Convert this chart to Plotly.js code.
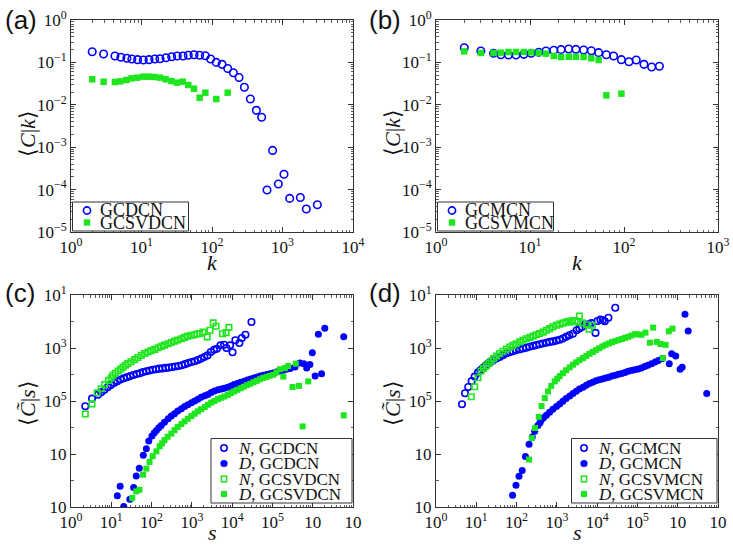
<!DOCTYPE html>
<html>
<head>
<meta charset="utf-8">
<script src="https://cdn.plot.ly/plotly-3.0.1.min.js"></script>
<style>html,body{margin:0;padding:0;background:#fff;}#chart{width:733px;height:546px;}</style>
</head>
<body>
<div id="chart"></div>
<script>
// ---------------- DATA ----------------
// Panel (a): <C|k> versus k
const a_k_GCDCN = [2, 2.9, 4.2, 5.1, 6.2, 7.3, 8.8, 10.6, 12.8, 15.4, 18.3, 22.3, 26.8, 32.2, 38.8, 46.1, 55.6, 66.8, 80.4, 95.7, 115, 139, 167, 201, 242, 288, 350, 426, 506, 603, 724, 873, 1050, 1265, 1791, 2178, 3119];
const a_C_GCDCN = [0.179, 0.158, 0.142, 0.132, 0.125, 0.120, 0.116, 0.114, 0.116, 0.120, 0.122, 0.129, 0.136, 0.142, 0.142, 0.147, 0.152, 0.147, 0.144, 0.120, 0.100, 0.090, 0.072, 0.057, 0.044, 0.026, 0.0137, 0.0074, 0.0051, 9.8e-5, 8.4e-4, 1.36e-4, 2.3e-4, 6.2e-5, 6.5e-5, 3.5e-5, 4.4e-5];
const a_k_GCSVDCN = [2, 2.9, 4.2, 5.0, 6.1, 7.2, 8.7, 10.6, 12.6, 15.1, 18.3, 22.0, 26.5, 31.8, 38.4, 46.1, 55.6, 66.8, 80.4, 115, 167];
const a_C_GCSVDCN = [0.040, 0.035, 0.0345, 0.0358, 0.0385, 0.042, 0.0437, 0.0461, 0.0461, 0.0453, 0.0437, 0.040, 0.0364, 0.0333, 0.0352, 0.0293, 0.0240, 0.0147, 0.0193, 0.0137, 0.0193];

// Panel (b): <C|k> versus k
const b_k_GCMCN = [2, 3, 4.1, 4.9, 5.9, 7.1, 8.6, 10.3, 12.4, 14.8, 17.9, 21.4, 25.8, 30.8, 37.2, 44.9, 53.7, 64.9, 77.6, 93.8, 113, 135, 163, 197, 238];
const b_C_GCMCN = [0.222, 0.186, 0.164, 0.152, 0.150, 0.150, 0.155, 0.164, 0.173, 0.186, 0.193, 0.200, 0.207, 0.203, 0.196, 0.189, 0.170, 0.152, 0.142, 0.116, 0.104, 0.114, 0.090, 0.078, 0.081];
const b_k_GCSVMCN = [2, 3, 4.1, 4.9, 5.9, 7.1, 8.6, 10.3, 12.4, 14.8, 17.9, 21.4, 25.8, 30.8, 37.2, 44.9, 53.7, 64.9, 93.8];
const b_C_GCSVMCN = [0.182, 0.167, 0.167, 0.170, 0.176, 0.176, 0.176, 0.173, 0.167, 0.161, 0.142, 0.134, 0.136, 0.136, 0.134, 0.125, 0.114, 0.0167, 0.0183];

// Panels (c) and (d): pairs read on the log axes, [log10 s, log10 <C~|s>]
const c_N_GCDCN = [[0.355,-3.20],[0.521,-2.91],[0.67,-2.76],[0.75,-2.67],[0.83,-2.58],[0.91,-2.48],[0.99,-2.40],[1.07,-2.32],[1.15,-2.25],[1.23,-2.19],[1.31,-2.14],[1.39,-2.10],[1.47,-2.06],[1.55,-2.02],[1.63,-1.98],[1.71,-1.95],[1.79,-1.91],[1.87,-1.88],[1.95,-1.85],[2.03,-1.82],[2.11,-1.80],[2.19,-1.78],[2.27,-1.77],[2.35,-1.75],[2.43,-1.74],[2.51,-1.72],[2.59,-1.70],[2.67,-1.68],[2.75,-1.65],[2.83,-1.61],[2.91,-1.57],[2.99,-1.53],[3.07,-1.50],[3.15,-1.45],[3.23,-1.40],[3.31,-1.34],[3.39,-1.28],[3.47,-1.15],[3.55,-1.07],[3.62,-1.03],[3.71,-0.90],[3.80,-0.88],[3.86,-1.00],[3.95,-0.90],[4.01,-1.16],[4.08,-0.71],[4.18,-0.81],[4.24,-0.62],[4.33,-0.50],[4.48,-0.02]];
const c_D_GCDCN = [[1.15,-6.58],[1.22,-6.22],[1.31,-6.98],[1.46,-6.71],[1.555,-6.26],[1.62,-5.83],[1.695,-5.54],[1.795,-5.05],[1.87,-4.80],[1.93,-4.51],[2.01,-4.32],[2.07,-4.20],[2.12,-4.11],[2.18,-4.01],[2.24,-3.92],[2.32,-3.80],[2.41,-3.67],[2.49,-3.57],[2.57,-3.48],[2.65,-3.38],[2.74,-3.29],[2.82,-3.21],[2.90,-3.14],[2.99,-3.07],[3.07,-3.00],[3.15,-2.93],[3.23,-2.86],[3.32,-2.80],[3.40,-2.75],[3.48,-2.68],[3.56,-2.62],[3.65,-2.58],[3.73,-2.55],[3.81,-2.52],[3.89,-2.48],[3.97,-2.43],[4.05,-2.38],[4.13,-2.34],[4.21,-2.29],[4.30,-2.25],[4.38,-2.21],[4.46,-2.17],[4.54,-2.13],[4.62,-2.09],[4.70,-2.06],[4.78,-2.03],[4.86,-2.00],[4.94,-1.97],[5.02,-1.94],[5.10,-1.91],[5.18,-1.87],[5.26,-1.84],[5.35,-1.80],[5.44,-1.77],[5.56,-1.72],[5.68,-1.57],[5.78,-1.59],[5.85,-1.75],[5.93,-1.62],[5.99,-1.18],[6.06,-2.06],[6.14,-0.48],[6.22,-1.97],[6.30,-0.25],[6.77,-0.58]];
const c_N_GCSVDCN = [[0.355,-3.49],[0.52,-3.11],[0.65,-2.69],[0.75,-2.54],[0.835,-2.38],[0.935,-2.22],[1.00,-2.12],[1.04,-2.03],[1.10,-1.95],[1.17,-1.87],[1.23,-1.80],[1.29,-1.72],[1.35,-1.65],[1.41,-1.59],[1.49,-1.52],[1.58,-1.44],[1.66,-1.36],[1.745,-1.28],[1.83,-1.21],[1.91,-1.15],[1.99,-1.10],[2.08,-1.05],[2.16,-0.99],[2.24,-0.94],[2.32,-0.89],[2.41,-0.84],[2.49,-0.79],[2.57,-0.74],[2.65,-0.70],[2.74,-0.65],[2.82,-0.60],[2.90,-0.55],[2.99,-0.52],[3.07,-0.50],[3.13,-0.47],[3.19,-0.45],[3.28,-0.40],[3.38,-0.58],[3.45,-0.33],[3.53,-0.05],[3.60,-0.18],[3.76,-0.46],[3.85,-0.42],[3.92,-0.22]];
const c_D_GCSVDCN = [[1.52,-6.66],[1.62,-6.41],[1.70,-6.35],[1.79,-5.78],[1.87,-5.55],[1.95,-5.30],[2.03,-5.08],[2.12,-4.90],[2.20,-4.71],[2.26,-4.60],[2.32,-4.48],[2.40,-4.35],[2.49,-4.23],[2.57,-4.10],[2.65,-3.98],[2.74,-3.87],[2.82,-3.77],[2.90,-3.67],[2.99,-3.57],[3.07,-3.48],[3.15,-3.39],[3.23,-3.31],[3.32,-3.23],[3.40,-3.14],[3.48,-3.06],[3.56,-3.00],[3.65,-2.93],[3.73,-2.88],[3.81,-2.83],[3.89,-2.77],[3.97,-2.70],[4.05,-2.64],[4.13,-2.58],[4.21,-2.52],[4.29,-2.46],[4.37,-2.40],[4.45,-2.35],[4.53,-2.29],[4.61,-2.24],[4.69,-2.18],[4.77,-2.13],[4.85,-2.09],[4.93,-2.05],[5.02,-2.01],[5.10,-1.92],[5.19,-1.80],[5.27,-2.08],[5.31,-1.76],[5.39,-1.68],[5.50,-2.47],[5.58,-1.59],[5.66,-2.43],[5.75,-3.96],[5.89,-2.26],[6.77,-3.54]];

const d_N_GCMCN = [[0.645,-3.12],[0.72,-2.71],[0.80,-2.47],[0.885,-2.25],[0.96,-2.08],[1.04,-1.93],[1.10,-1.84],[1.17,-1.75],[1.23,-1.67],[1.29,-1.59],[1.35,-1.53],[1.41,-1.47],[1.50,-1.40],[1.58,-1.34],[1.66,-1.27],[1.745,-1.21],[1.83,-1.16],[1.91,-1.12],[1.99,-1.08],[2.08,-1.05],[2.16,-1.02],[2.24,-0.99],[2.32,-0.95],[2.41,-0.92],[2.49,-0.89],[2.57,-0.86],[2.65,-0.83],[2.74,-0.80],[2.82,-0.77],[2.90,-0.75],[2.99,-0.72],[3.07,-0.69],[3.15,-0.64],[3.23,-0.58],[3.31,-0.52],[3.40,-0.46],[3.49,-0.33],[3.56,-0.26],[3.62,-0.21],[3.70,-0.11],[3.80,-0.11],[3.86,-0.06],[3.96,-0.43],[4.01,0.02],[4.08,0.07],[4.14,0.05],[4.19,0.01],[4.28,0.14],[4.45,0.52]];
const d_D_GCMCN = [[1.90,-6.56],[1.985,-6.18],[2.06,-5.84],[2.14,-5.62],[2.22,-5.09],[2.31,-4.63],[2.39,-4.36],[2.45,-4.14],[2.53,-3.92],[2.58,-3.82],[2.61,-3.73],[2.67,-3.63],[2.74,-3.54],[2.82,-3.42],[2.90,-3.31],[2.99,-3.21],[3.07,-3.11],[3.15,-3.01],[3.23,-2.91],[3.32,-2.81],[3.40,-2.72],[3.48,-2.63],[3.56,-2.55],[3.65,-2.48],[3.73,-2.41],[3.81,-2.34],[3.89,-2.29],[3.97,-2.24],[4.05,-2.20],[4.13,-2.17],[4.21,-2.13],[4.29,-2.10],[4.37,-2.06],[4.45,-2.03],[4.53,-1.99],[4.61,-1.96],[4.69,-1.92],[4.77,-1.88],[4.85,-1.85],[4.93,-1.82],[5.02,-1.79],[5.10,-1.75],[5.18,-1.70],[5.26,-1.65],[5.35,-1.59],[5.44,-1.53],[5.52,-1.47],[5.62,-1.40],[5.79,-1.59],[5.85,-1.22],[5.95,-1.30],[6.06,-1.80],[6.11,-1.73],[6.18,0.27],[6.26,-0.36],[6.72,-2.72]];
const d_N_GCSVMCN = [[0.875,-2.84],[0.96,-2.46],[1.04,-2.12],[1.12,-1.87],[1.18,-1.77],[1.25,-1.68],[1.31,-1.58],[1.37,-1.49],[1.43,-1.40],[1.50,-1.30],[1.58,-1.21],[1.66,-1.12],[1.745,-1.04],[1.83,-0.96],[1.91,-0.90],[1.99,-0.84],[2.08,-0.77],[2.16,-0.71],[2.24,-0.65],[2.33,-0.60],[2.41,-0.55],[2.49,-0.50],[2.57,-0.45],[2.66,-0.40],[2.74,-0.33],[2.82,-0.27],[2.90,-0.20],[2.99,-0.14],[3.07,-0.10],[3.15,-0.06],[3.22,-0.03],[3.28,0.01],[3.33,-0.03],[3.38,0.03],[3.45,0.04],[3.52,-0.02],[3.56,0.21],[3.63,-0.05],[3.74,-0.12],[3.80,-0.29],[3.88,-0.14]];
const d_D_GCSVMCN = [[2.31,-5.21],[2.38,-4.40],[2.46,-4.02],[2.55,-3.60],[2.62,-3.19],[2.70,-2.89],[2.78,-2.64],[2.86,-2.43],[2.95,-2.26],[3.01,-2.16],[3.07,-2.06],[3.15,-1.95],[3.23,-1.84],[3.32,-1.73],[3.40,-1.63],[3.48,-1.54],[3.56,-1.46],[3.65,-1.38],[3.73,-1.30],[3.81,-1.22],[3.89,-1.15],[3.97,-1.08],[4.05,-1.01],[4.13,-0.94],[4.21,-0.88],[4.29,-0.83],[4.37,-0.78],[4.45,-0.74],[4.53,-0.70],[4.61,-0.66],[4.69,-0.62],[4.77,-0.58],[4.85,-0.53],[4.94,-0.48],[5.02,-0.49],[5.10,-0.50],[5.20,-0.42],[5.31,-0.80],[5.39,-0.23],[5.48,-0.77],[5.57,-0.85],[5.63,-1.38],[5.70,-0.88],[5.78,-0.37],[5.87,-0.27]];

// Tick labels
const ab_yTickVals = [1e-5, 1e-4, 1e-3, 1e-2, 1e-1, 1];
const ab_yTickText = ['10<sup>\u22125</sup>','10<sup>\u22124</sup>','10<sup>\u22123</sup>','10<sup>\u22122</sup>','10<sup>\u22121</sup>','10<sup>0</sup>'];
const a_xTickVals = [1, 10, 100, 1000, 10000];
const a_xTickText = ['10<sup>0</sup>','10<sup>1</sup>','10<sup>2</sup>','10<sup>3</sup>','10<sup>4</sup>'];
const b_xTickVals = [1, 10, 100, 1000];
const b_xTickText = ['10<sup>0</sup>','10<sup>1</sup>','10<sup>2</sup>','10<sup>3</sup>'];
const cd_xTickVals = [1, 10, 100, 1e3, 1e4, 1e5, 1e6, 1e7];
const cd_xTickText = ['10<sup>0</sup>','10<sup>1</sup>','10<sup>2</sup>','10<sup>3</sup>','10<sup>4</sup>','10<sup>5</sup>','10','10'];
const cd_yTickVals = [1e-7, 1e-5, 1e-3, 1e-1, 10];
const cd_yTickText = ['10','10','10<sup>5</sup>','10<sup>3</sup>','10<sup>1</sup>'];

// ---------------- STYLE / LAYOUT ----------------
const W = 733, H = 546;
const BLUE = '#0000ff', GREEN = '#1ee61e';
const SERIF = 'Liberation Serif, Times New Roman, serif';
const SANS = 'Liberation Sans, Arial, sans-serif';
const boxes = {
  a: {l:71, r:353, t:20, b:232},
  b: {l:436, r:718, t:20, b:232},
  c: {l:71, r:353, t:295, b:507},
  d: {l:436, r:718, t:295, b:507}
};
function dom(p){ return {x:[p.l/W, p.r/W], y:[1-p.b/H, 1-p.t/H]}; }
function minorVals(lo, hi){ const v=[]; for(let e=lo;e<hi;e++){ for(let m=2;m<=9;m++) v.push(m*Math.pow(10,e)); } return v; }
const cd_yMinor = [1e-6, 1e-4, 1e-2, 1];

function axis(domain, anchor, range, tickvals, ticktext, minor){
  return {
    type:'log', domain:domain, anchor:anchor, range:range,
    tickmode:'array', tickvals:tickvals, ticktext:ticktext,
    ticks:'inside', ticklen:5, tickwidth:1, tickcolor:'#333',
    showline:true, linecolor:'#333', linewidth:1, mirror:'allticks',
    showgrid:false, zeroline:false,
    tickfont:{family:SERIF, size:17, color:'#111'},
    minor:{ticks:'inside', ticklen:2.5, tickwidth:0.8, tickcolor:'#333', tickmode:'array', tickvals:minor, showgrid:false}
  };
}

const pw = v => Math.pow(10, v);
function tr(name, xs, ys, xa, ya, symbol, color, size, open){
  return {name:name, x:xs, y:ys, xaxis:xa, yaxis:ya, type:'scatter', mode:'markers', showlegend:false,
    marker:{symbol:symbol, size:size, color:color, line:{color:color, width: open ? 1.6 : 0}}};
}
function trPairs(name, pairs, xa, ya, symbol, color, size, open){
  return tr(name, pairs.map(p=>pw(p[0])), pairs.map(p=>pw(p[1])), xa, ya, symbol, color, size, open);
}

const data = [
  tr('GCDCN', a_k_GCDCN, a_C_GCDCN, 'x', 'y', 'circle-open', BLUE, 7.5, true),
  tr('GCSVDCN', a_k_GCSVDCN, a_C_GCSVDCN, 'x', 'y', 'square', GREEN, 6.5, false),
  tr('GCMCN', b_k_GCMCN, b_C_GCMCN, 'x2', 'y2', 'circle-open', BLUE, 7.5, true),
  tr('GCSVMCN', b_k_GCSVMCN, b_C_GCSVMCN, 'x2', 'y2', 'square', GREEN, 6.5, false),
  trPairs('N, GCDCN', c_N_GCDCN, 'x3', 'y3', 'circle-open', BLUE, 6.5, true),
  trPairs('D, GCDCN', c_D_GCDCN, 'x3', 'y3', 'circle', BLUE, 7, false),
  trPairs('N, GCSVDCN', c_N_GCSVDCN, 'x3', 'y3', 'square-open', GREEN, 5.5, true),
  trPairs('D, GCSVDCN', c_D_GCSVDCN, 'x3', 'y3', 'square', GREEN, 6, false),
  trPairs('N, GCMCN', d_N_GCMCN, 'x4', 'y4', 'circle-open', BLUE, 6.5, true),
  trPairs('D, GCMCN', d_D_GCMCN, 'x4', 'y4', 'circle', BLUE, 7, false),
  trPairs('N, GCSVMCN', d_N_GCSVMCN, 'x4', 'y4', 'square-open', GREEN, 5.5, true),
  trPairs('D, GCSVMCN', d_D_GCSVMCN, 'x4', 'y4', 'square', GREEN, 6, false)
];

const layout = {
  width:W, height:H, autosize:false,
  margin:{l:0, r:0, t:0, b:0},
  paper_bgcolor:'#fff', plot_bgcolor:'#fff',
  font:{family:SERIF, color:'#111'},
  xaxis: axis(dom(boxes.a).x, 'y', [0,4], a_xTickVals, a_xTickText, minorVals(0,4)),
  yaxis: axis(dom(boxes.a).y, 'x', [-5,0], ab_yTickVals, ab_yTickText, minorVals(-5,0)),
  xaxis2: axis(dom(boxes.b).x, 'y2', [0,3], b_xTickVals, b_xTickText, minorVals(0,3)),
  yaxis2: axis(dom(boxes.b).y, 'x2', [-5,0], ab_yTickVals, ab_yTickText, minorVals(-5,0)),
  xaxis3: axis(dom(boxes.c).x, 'y3', [0,7], cd_xTickVals, cd_xTickText, minorVals(0,7)),
  yaxis3: axis(dom(boxes.c).y, 'x3', [-7,1], cd_yTickVals, cd_yTickText, cd_yMinor),
  xaxis4: axis(dom(boxes.d).x, 'y4', [0,7], cd_xTickVals, cd_xTickText, minorVals(0,7)),
  yaxis4: axis(dom(boxes.d).y, 'x4', [-7,1], cd_yTickVals, cd_yTickText, cd_yMinor),
  shapes:[], annotations:[]
};

// panel letters
[['(a)',3,3],['(b)',367,3],['(c)',3,276],['(d)',367,276]].forEach(([t,x,y])=>{
  layout.annotations.push({text:t, xref:'paper', yref:'paper', x:x/W, y:1-y/H, xanchor:'left', yanchor:'top',
    showarrow:false, font:{family:SANS, size:26, color:'#111'}});
});

// axis titles
const yTitleCk = '\u27E8<i>C</i>|<i>k</i>\u27E9';
const yTitleCs = '\u27E8<i>C\u0303</i>|<i>s</i>\u27E9';
[['<i>k</i>',212,262,0,22],['<i>k</i>',577,262,0,22],['<i>s</i>',212,532,0,22],['<i>s</i>',577,532,0,22],
 [yTitleCk,27,133,-90,22],[yTitleCk,392,133,-90,22],[yTitleCs,27,403,-90,22],[yTitleCs,392,403,-90,22]].forEach(([t,x,y,a,s])=>{
  layout.annotations.push({text:t, xref:'paper', yref:'paper', x:x/W, y:1-y/H, xanchor:'center', yanchor:'middle',
    textangle:a, showarrow:false, font:{family:SERIF, size:s, color:'#111'}});
});

// legends (drawn as box + symbol shapes + text)
function legend(box, symX, txtX, rows, fontSize){
  layout.shapes.push({type:'rect', xref:'paper', yref:'paper', x0:box[0]/W, x1:box[2]/W, y0:1-box[3]/H, y1:1-box[1]/H,
    line:{color:'#333', width:1}, fillcolor:'#fff', layer:'above'});
  rows.forEach(r=>{
    const [cy, kind, color, rad, text] = r;
    const s = {xref:'paper', yref:'paper', xsizemode:'pixel', ysizemode:'pixel', xanchor:symX/W, yanchor:1-cy/H,
      x0:-rad, x1:rad, y0:-rad, y1:rad, layer:'above'};
    if(kind==='co'){ Object.assign(s,{type:'circle', line:{color:color,width:1.6}, fillcolor:'rgba(0,0,0,0)'}); }
    if(kind==='cf'){ Object.assign(s,{type:'circle', line:{width:0}, fillcolor:color}); }
    if(kind==='so'){ Object.assign(s,{type:'rect', line:{color:color,width:1.4}, fillcolor:'rgba(0,0,0,0)'}); }
    if(kind==='sf'){ Object.assign(s,{type:'rect', line:{width:0}, fillcolor:color}); }
    layout.shapes.push(s);
    layout.annotations.push({text:text, xref:'paper', yref:'paper', x:txtX/W, y:1-cy/H, xanchor:'left', yanchor:'middle',
      showarrow:false, font:{family:SERIF, size:fontSize, color:'#111'}});
  });
}
legend([72.5,202,188.5,231], 87, 98, [[210.5,'co',BLUE,3.6,'GCDCN'],[222.5,'sf',GREEN,3.2,'GCSVDCN']], 18);
legend([437.5,202,553.5,231], 452, 463, [[210.5,'co',BLUE,3.6,'GCMCN'],[222.5,'sf',GREEN,3.2,'GCSVMCN']], 18);
legend([211,438.5,352,503], 224, 236, [[448,'co',BLUE,3.2,'<i>N</i>, GCDCN'],[463.5,'cf',BLUE,3.6,'<i>D</i>, GCDCN'],[479,'so',GREEN,2.7,'<i>N</i>, GCSVDCN'],[494,'sf',GREEN,3,'<i>D</i>, GCSVDCN']], 17);
legend([571.5,438.5,717,503], 584, 596, [[448,'co',BLUE,3.2,'<i>N</i>, GCMCN'],[463.5,'cf',BLUE,3.6,'<i>D</i>, GCMCN'],[479,'so',GREEN,2.7,'<i>N</i>, GCSVMCN'],[494,'sf',GREEN,3,'<i>D</i>, GCSVMCN']], 17);

Plotly.newPlot('chart', data, layout, {staticPlot:true, displayModeBar:false});
</script>
</body>
</html>
